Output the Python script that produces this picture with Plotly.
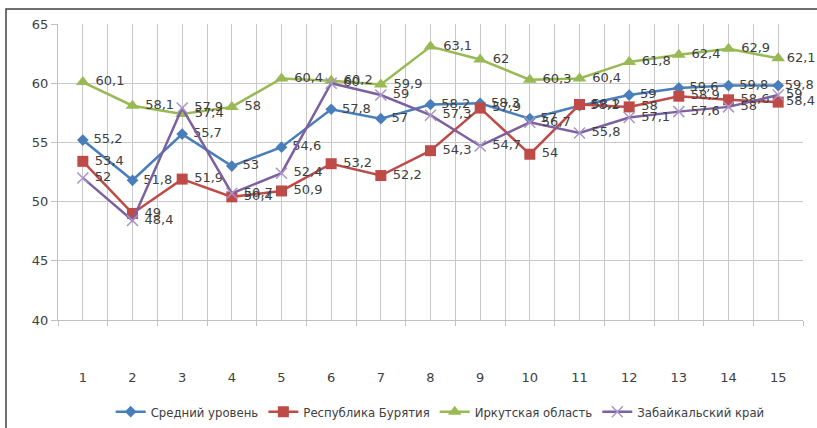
import plotly.graph_objects as go

categories = list(range(1, 16))
avg_level = [55.2, 51.8, 55.7, 53, 54.6, 57.8, 57, 58.2, 58.3, 57, 58.1, 59, 59.6, 59.8, 59.8]
buryatia = [53.4, 49, 51.9, 50.4, 50.9, 53.2, 52.2, 54.3, 57.9, 54, 58.2, 58, 58.9, 58.6, 58.4]
irkutsk = [60.1, 58.1, 57.4, 58, 60.4, 60.2, 59.9, 63.1, 62, 60.3, 60.4, 61.8, 62.4, 62.9, 62.1]
zabaikal = [52, 48.4, 57.9, 50.7, 52.4, 60, 59, 57.3, 54.7, 56.7, 55.8, 57.1, 57.6, 58, 59]
names = ["Средний уровень", "Республика Бурятия", "Иркутская область", "Забайкальский край"]
y_ticks = [40, 45, 50, 55, 60, 65]

def fmt(v, last=False):
    s = ("%g" % v).replace(".", ",")
    return s if last else " " + s

series = [
    (names[0], avg_level, "#4A7EBB", dict(symbol="diamond", size=9, color="#4A7EBB")),
    (names[1], buryatia, "#BE4B48", dict(symbol="square", size=11, color="#BE4B48")),
    (names[2], irkutsk, "#98B954", dict(symbol="triangle-up", size=12, color="#98B954")),
    (names[3], zabaikal, "#7D60A0", dict(symbol="x-thin", size=11, color="#A895C9",
                                         line=dict(width=1.5, color="#A895C9"))),
]

fig = go.Figure()
for name, vals, col, mk in series:
    fig.add_trace(go.Scatter(
        x=categories, y=vals, name=name, mode="lines+markers+text",
        line=dict(color=col, width=2.5), marker=mk,
        text=[fmt(v, i == len(vals) - 1) for i, v in enumerate(vals)],
        textposition="middle right",
        textfont=dict(family="DejaVu Sans", size=13, color="#404040"),
        cliponaxis=False,
    ))

fig.update_layout(
    width=817, height=428,
    margin=dict(l=58, r=14, t=24, b=108, autoexpand=False),
    plot_bgcolor="white", paper_bgcolor="white",
    showlegend=True,
    legend=dict(orientation="h", x=0.513, xanchor="center", y=-0.31, yanchor="middle",
                font=dict(family="Liberation Sans Narrow, DejaVu Sans Condensed", size=13, color="#404040"),
                itemwidth=30, tracegroupgap=0),
    shapes=[dict(type="path", xref="paper", yref="paper",
                 path="M -0.0698,-0.37 L -0.0698,1.0507 L 1.03,1.0507",
                 line=dict(color="#404040", width=1.5))],
)
fig.update_xaxes(
    range=[0.5, 15.5], tickmode="array", tickvals=categories, ticktext=[str(c) for c in categories],
    showgrid=True, gridcolor="#C8C8C8", gridwidth=1, ticks="",
    showline=True, linecolor="#C0C0C0", linewidth=1,
    tickfont=dict(family="DejaVu Sans", size=13, color="#404040"),
    ticklabelstandoff=45,
    minor=dict(tick0=0.5, dtick=1, showgrid=True, gridcolor="#C8C8C8", ticks="outside",
               ticklen=5, tickcolor="#C0C0C0"),
    zeroline=False,
)
fig.update_yaxes(
    range=[40, 65], tickvals=y_ticks, showgrid=True, gridcolor="#C8C8C8",
    ticks="outside", ticklen=6, tickcolor="#C0C0C0",
    showline=True, linecolor="#C0C0C0", linewidth=1,
    tickfont=dict(family="DejaVu Sans", size=13, color="#404040"),
    zeroline=False,
)
fig.write_html("out.html", config={"displayModeBar": False},
               post_script="document.body.style.margin='0';document.body.style.padding='0';")
